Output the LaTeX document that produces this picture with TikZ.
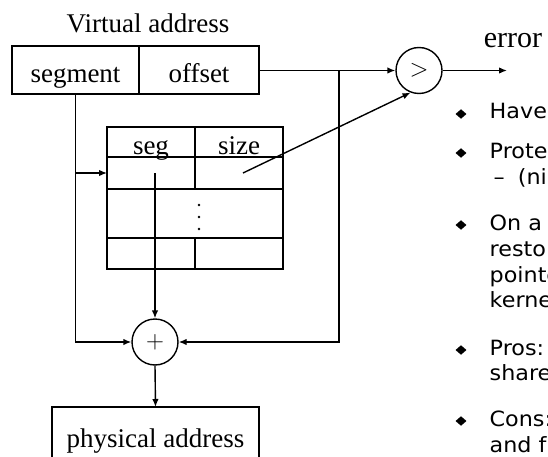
\documentclass[tikz,border=0pt]{standalone}
\usepackage{fontspec}
\setmainfont{Liberation Serif}
\newfontfamily\notefont[FakeStretch=1.06]{DejaVu Sans}
\usetikzlibrary{arrows.meta,shapes.geometric}

\begin{document}
\begin{tikzpicture}[x=1pt,y=-1pt,line width=1.4pt,
  serif/.style={font=\fontsize{27}{30}\selectfont},
  cell/.style={draw, serif, inner sep=0pt, outer sep=0pt},
  lowtext/.style={text height=#1, text depth=0pt},
  op/.style={draw, circle, minimum size=46pt, inner sep=0pt, font=\fontsize{27}{30}\selectfont},
  arr/.style={-{Latex[length=8pt,width=6.5pt]}},
  note/.style={font=\notefont\fontsize{21}{24}\selectfont, anchor=base west, inner sep=0pt},
  bul/.style={diamond, fill, inner sep=0pt, minimum width=11.5pt, minimum height=10pt}
]
\useasboundingbox (0,0) rectangle (548,457);
\clip (0,0) rectangle (548,457);

% virtual address: segment | offset
\node[serif, anchor=base, inner sep=0pt] (va) at (148,33) {Virtual address};
\node[cell, lowtext=26pt, minimum width=127pt, minimum height=48pt] (segf) at (75.5,70) {segment};
\node[cell, lowtext=26pt, minimum width=120pt, minimum height=48pt] (offf) at (199,70) {offset};

% segment table
\node[cell, lowtext=24pt, minimum width=88pt, minimum height=30pt] (hseg) at (151,142) {seg};
\node[cell, lowtext=24pt, minimum width=88pt, minimum height=30pt] (hsize) at (239,142) {size};
\node[cell, minimum width=88pt, minimum height=32pt] (r1a) at (151,173) {};
\node[cell, minimum width=88pt, minimum height=32pt] (r1b) at (239,173) {};
\node[cell, minimum width=176pt, minimum height=49pt] (mid) at (195,213.5) {};
\node[cell, minimum width=88pt, minimum height=31pt] (r3a) at (151,253.5) {};
\node[cell, minimum width=88pt, minimum height=31pt] (r3b) at (239,253.5) {};
\foreach \i/\yy in {1/205,2/217,3/229}
  \fill (199,\yy) circle (1.4pt) coordinate (dot\i);

% comparator and adder
\node[op] (gt) at (419,70.5) {$>$};
\node[op] (plus) at (155,342) {$+$};
\coordinate (errend) at (507,70.5);
\node[font=\fontsize{30}{33}\selectfont, anchor=base, inner sep=0pt] (err) at (513,48) {error};

% physical address
\node[cell, lowtext=20pt, minimum width=207pt, minimum height=60pt] (phys) at (155.5,437) {physical address};

% connectors
\coordinate (tap) at (339,70.5);
\draw[arr] (offf.east |- gt.west) -- (gt.west);
\draw[arr] (gt.east) -- (errend);
\draw[arr] (tap) |- (plus.east);
\draw[arr] (segf.south) |- (plus.west);
\draw[arr] (segf.south |- r1a.west) -- (r1a.west);
\draw[arr] (plus.north |- r1a.center) -- (plus.north);
\draw[arr] ([xshift=4pt]r1b.center) -- (gt.-111);
\draw[arr] (plus.south) -- (phys.north);

% notes column
\node[bul] (b1) at (461,114) {};
\node[note] (n1) at (489,119) {Have a table of (seg, size)};
\node[bul] (b2) at (461,153) {};
\node[note] (n2) at (489,158) {Protection: each entry has};
\node[note] (n3) at (493,184) {–\hspace{13pt}(nil, read, write, exec)};
\node[bul] (b3) at (461,225) {};
\node[note] (n4) at (489,230) {On a context switch: save/};
\node[note] (n5) at (489,256) {restore the table and a};
\node[note] (n6) at (489,282) {pointer to the table in};
\node[note] (n7) at (489,307) {kernel memory};
\node[bul] (b4) at (461,350) {};
\node[note] (n8) at (489,355) {Pros: Efficient, easy to};
\node[note] (n9) at (489,380) {share};
\node[bul] (b5) at (461,421) {};
\node[note] (n10) at (489,426) {Cons: Complex management};
\node[note] (n11) at (489,452) {and fragmentation within a segment};
\end{tikzpicture}
\end{document}
